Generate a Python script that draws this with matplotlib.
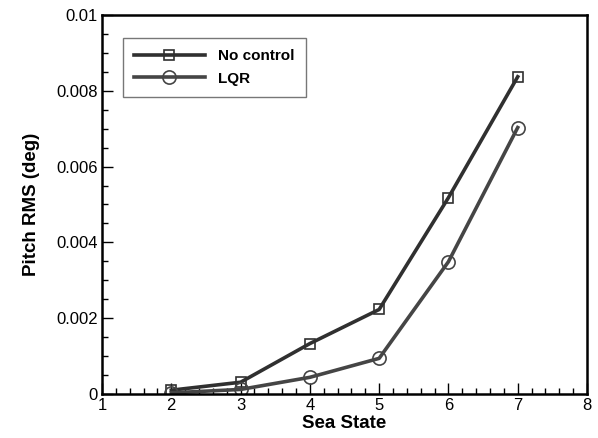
import matplotlib
matplotlib.use("Agg")
import matplotlib.pyplot as plt
from matplotlib.ticker import MultipleLocator, FixedLocator

plt.rcParams['font.family'] = ['Liberation Sans', 'DejaVu Sans']

sea_state = [2, 3, 4, 5, 6, 7]
no_control = [0.0001, 0.00031, 0.00133, 0.00223, 0.00518, 0.00837]
lqr = [0.00003, 0.00012, 0.00044, 0.00094, 0.00349, 0.00703]
x_ticks = [1, 2, 3, 4, 5, 6, 7, 8]
y_ticks = [0, 0.002, 0.004, 0.006, 0.008, 0.01]
y_tick_labels = ['0', '0.002', '0.004', '0.006', '0.008', '0.01']

fig = plt.figure(figsize=(5.98, 4.38), dpi=100)
ax = fig.add_axes([0.1706, 0.1005, 0.811, 0.8653])

ax.plot(sea_state, no_control, color='#303030', lw=2.6, marker='s', ms=7,
        mfc='none', mec='#303030', mew=1.2, label='No control')
ax.plot(sea_state, lqr, color='#454545', lw=2.6, marker='o', ms=9.5,
        mfc='none', mec='#454545', mew=1.2, label='LQR')

ax.set_xlim(1, 8)
ax.set_ylim(0, 0.01)
ax.xaxis.set_major_locator(FixedLocator(x_ticks))
ax.xaxis.set_minor_locator(MultipleLocator(0.2))
ax.set_yticks(y_ticks)
ax.set_yticklabels(y_tick_labels)
ax.yaxis.set_minor_locator(MultipleLocator(0.0005))
ax.tick_params(which='major', direction='in', length=8, width=1, labelsize=12,
               top=False, right=False, colors='black', pad=3)
ax.tick_params(which='minor', direction='in', length=4, width=1, top=False, right=False)
for s in ax.spines.values():
    s.set_linewidth(1.8)

ax.set_xlabel('Sea State', fontsize=13.5, fontweight='bold', labelpad=1)
ax.set_ylabel('Pitch RMS (deg)', fontsize=13.5, fontweight='bold', labelpad=12)

leg = ax.legend(loc='upper left', bbox_to_anchor=(0.043, 0.940),
                prop={'weight': 'bold', 'size': 11}, frameon=True, fancybox=False,
                handlelength=4.6, borderpad=0.75, labelspacing=0.55, handletextpad=0.85,
                borderaxespad=0)
leg.get_frame().set_edgecolor('#555555')
leg.get_frame().set_linewidth(1.0)

fig.savefig('out.png', dpi=100)
